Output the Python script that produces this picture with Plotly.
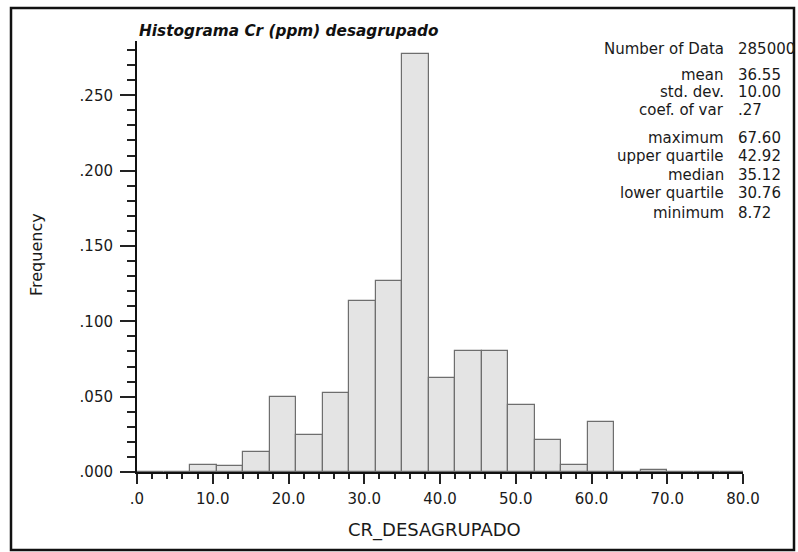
import plotly.graph_objects as go

# ---- data ----
bin_width = 3.5
bin_starts = [0.0, 3.5, 7.0, 10.5, 14.0, 17.5, 21.0, 24.5, 28.0, 31.5, 35.0, 38.5,
              42.0, 45.5, 49.0, 52.5, 56.0, 59.5, 63.0, 66.5, 70.0, 73.5, 77.0]
frequencies = [0.0, 0.0, 0.0046, 0.0038, 0.0135, 0.0499, 0.0247, 0.0526, 0.1132,
               0.1269, 0.2776, 0.0621, 0.0805, 0.0805, 0.0446, 0.0212, 0.0044,
               0.0334, 0.0, 0.0013, 0.0, 0.0, 0.0]

x_tick_vals = [0, 10, 20, 30, 40, 50, 60, 70, 80]
x_tick_text = [".0", "10.0", "20.0", "30.0", "40.0", "50.0", "60.0", "70.0", "80.0"]
y_tick_vals = [0.0, 0.05, 0.10, 0.15, 0.20, 0.25]
y_tick_text = [".000", ".050", ".100", ".150", ".200", ".250"]

stat_labels = ["Number of Data", "mean", "std. dev.", "coef. of var",
               "maximum", "upper quartile", "median", "lower quartile", "minimum"]
stat_values = ["285000", "36.55", "10.00", ".27",
               "67.60", "42.92", "35.12", "30.76", "8.72"]

title_text = "Histograma Cr (ppm) desagrupado"
x_title = "CR_DESAGRUPADO"
y_title = "Frequency"

# ---- layout geometry ----
W, H = 798, 552
ML, MR, MT, MB = 137, 55, 41, 80
PW, PH = W - ML - MR, H - MT - MB
FONT = "DejaVu Sans"
TXT = "#1a1a1a"


def px(x):
    return (x - ML) / PW


def py(y):
    return (H - MB - y) / PH


centers = [s + bin_width / 2 for s in bin_starts]

fig = go.Figure()
fig.add_trace(go.Bar(
    x=centers, y=frequencies, width=bin_width,
    marker=dict(color="#e4e4e4", line=dict(color="#6e6e6e", width=1.2)),
    showlegend=False, hoverinfo="x+y",
))

fig.update_layout(
    width=W, height=H,
    margin=dict(l=ML, r=MR, t=MT, b=MB, pad=0),
    paper_bgcolor="white", plot_bgcolor="white",
    font=dict(family=FONT, size=15, color=TXT),
    bargap=0,
    xaxis=dict(
        range=[0, 80], showgrid=False, zeroline=False,
        showline=True, linecolor="#111", linewidth=2,
        tickmode="array", tickvals=x_tick_vals, ticktext=x_tick_text,
        ticks="outside", ticklen=10, tickwidth=1.5, tickcolor="#222",
        ticklabelstandoff=2,
        tickfont=dict(family=FONT, size=15, color=TXT),
        minor=dict(dtick=2, tick0=0, ticks="outside", ticklen=5, tickwidth=1.5,
                   tickcolor="#222", showgrid=False),
    ),
    yaxis=dict(
        range=[0, 0.286], showgrid=False, zeroline=False,
        showline=True, linecolor="#111", linewidth=2,
        tickmode="array", tickvals=y_tick_vals, ticktext=y_tick_text,
        ticks="outside", ticklen=15, tickwidth=1.5, tickcolor="#222",
        ticklabelstandoff=4,
        tickfont=dict(family=FONT, size=15, color=TXT),
        minor=dict(dtick=0.01, tick0=0, ticks="outside", ticklen=8, tickwidth=1.5,
                   tickcolor="#222", showgrid=False),
    ),
)

ann = []
ann.append(dict(text="<b><i>" + title_text + "</i></b>", x=px(137), y=py(31),
                xref="paper", yref="paper", xanchor="left", yanchor="middle",
                showarrow=False, font=dict(family=FONT, size=15.3, color="#111")))
ann.append(dict(text=x_title, x=px(434), y=py(530), xref="paper", yref="paper",
                xanchor="center", yanchor="middle", showarrow=False,
                font=dict(family=FONT, size=18, color=TXT)))
ann.append(dict(text=y_title, x=px(37), y=py(255), xref="paper", yref="paper",
                xanchor="center", yanchor="middle", showarrow=False, textangle=-90,
                font=dict(family=FONT, size=16, color=TXT)))

row_y = [49.5, 74.5, 92.5, 109.7, 137.5, 156.3, 174.5, 193.0, 212.8]
for lab, val, yy in zip(stat_labels, stat_values, row_y):
    ann.append(dict(text=lab, x=px(726), y=py(yy), xref="paper", yref="paper",
                    xanchor="right", yanchor="middle", showarrow=False,
                    font=dict(family=FONT, size=15, color=TXT)))
    ann.append(dict(text=val, x=px(736), y=py(yy), xref="paper", yref="paper",
                    xanchor="left", yanchor="middle", showarrow=False,
                    font=dict(family=FONT, size=15, color=TXT)))
fig.update_layout(annotations=ann)

fig.add_shape(type="rect", xref="paper", yref="paper",
              x0=px(11), x1=px(794), y0=py(8), y1=py(550),
              line=dict(color="#111", width=2.5), fillcolor="rgba(0,0,0,0)",
              layer="above")

fig.write_html("out.html")
